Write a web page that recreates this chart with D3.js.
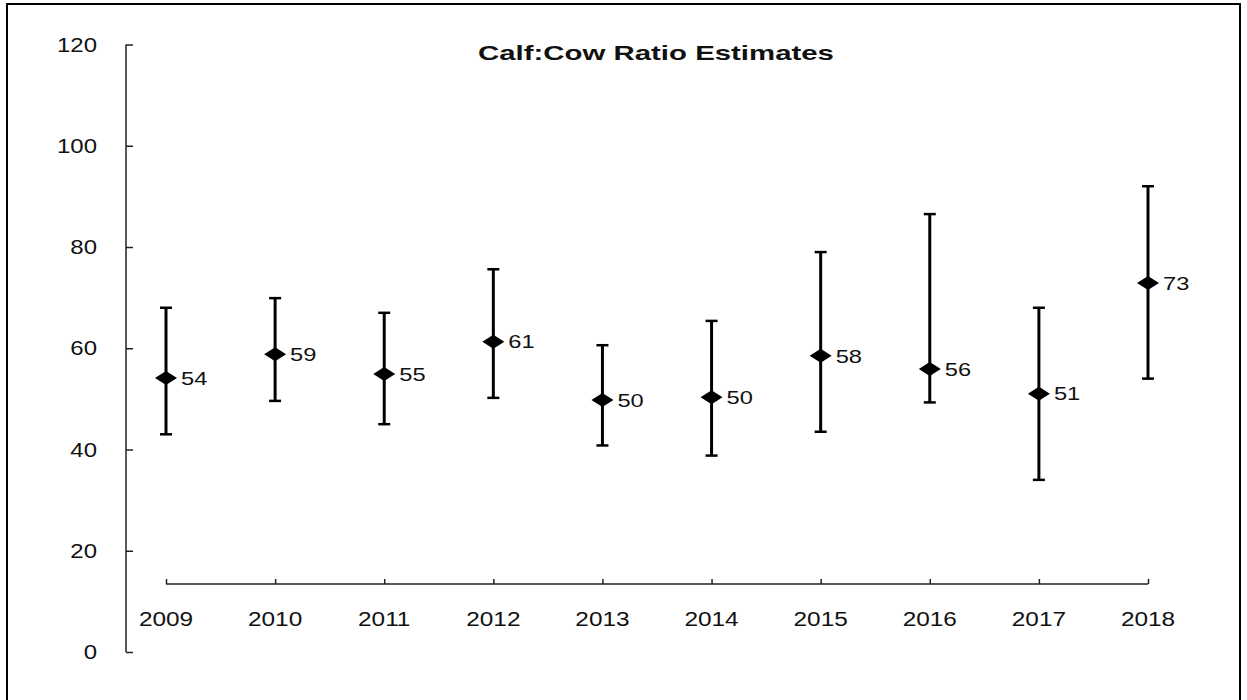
<!DOCTYPE html>
<html><head><meta charset="utf-8">
<script src="https://cdn.jsdelivr.net/npm/d3@7"></script>
<style>body{margin:0;background:#fff}svg{display:block}text{font-family:"Liberation Sans",Arial,sans-serif;fill:#111}</style>
</head><body>
<svg id="c" width="1247" height="700"></svg>
<script>
const years = ["2009","2010","2011","2012","2013","2014","2015","2016","2017","2018"];
const estimates = [54.1, 58.8, 54.9, 61.3, 49.8, 50.3, 58.5, 55.9, 51.0, 72.9];
const lower = [43.0, 49.6, 45.0, 50.2, 40.8, 38.8, 43.5, 49.3, 34.0, 54.0];
const upper = [68.0, 69.9, 67.0, 75.6, 60.6, 65.4, 79.0, 86.5, 68.0, 92.0];
const labels = ["54","59","55","61","50","50","58","56","51","73"];
const yTicks = [0, 20, 40, 60, 80, 100, 120];
const title = "Calf:Cow Ratio Estimates";

const svg = d3.select("#c");
const SX = 1.25;
// frame
svg.append("rect").attr("x",7).attr("y",4).attr("width",1233).attr("height",710)
  .attr("fill","none").attr("stroke","#000").attr("stroke-width",2);

const y = d3.scaleLinear().domain([0,120]).range([652,44.5]);
const x = d3.scalePoint().domain(years).range([166,1148]);
const xAxisY = 584;

// y axis
const ya = svg.append("g").attr("transform","translate(126,0)")
  .call(d3.axisLeft(y).tickValues(yTicks).tickSize(-7).tickFormat(""));
ya.selectAll("path,line").attr("stroke","#222").attr("stroke-width",1.5);
ya.select(".domain").attr("d",`M0,${y(120)}V${y(0)}`);

function txt(g, s, tx, ty, size, anchor, bold, sx){
  return g.append("text").attr("transform",`translate(${tx},${ty}) scale(${sx},1)`)
    .attr("text-anchor",anchor).attr("dy","0.36em")
    .style("font-size",size+"px").style("font-weight",bold?"bold":"normal").text(s);
}
yTicks.forEach(t => txt(svg, String(t), 97, y(t), 20, "end", false, 1.2));

// x axis
const xa = svg.append("g").attr("transform",`translate(0,${xAxisY})`)
  .call(d3.axisTop(x).tickSize(5).tickSizeOuter(0).tickFormat(""));
xa.selectAll("path,line").attr("stroke","#222").attr("stroke-width",1.5);
xa.select(".domain").attr("d",`M${x(years[0])},0H${x(years[years.length-1])}`);
years.forEach(yr => txt(svg, yr, x(yr), 619, 19.5, "middle", false, SX));

// title
txt(svg, title, 656, 52, 21, "middle", true, 1.4);

// error bars
const g = svg.append("g");
years.forEach((yr,i) => {
  const cx = x(yr);
  g.append("line").attr("x1",cx).attr("x2",cx).attr("y1",y(lower[i])).attr("y2",y(upper[i]))
    .attr("stroke","#000").attr("stroke-width",3);
  [lower[i], upper[i]].forEach(v => g.append("line").attr("x1",cx-6).attr("x2",cx+6)
    .attr("y1",y(v)).attr("y2",y(v)).attr("stroke","#000").attr("stroke-width",2.5));
  g.append("path").attr("d","M0,-7L11,0L0,7L-11,0Z").attr("fill","#000")
    .attr("transform",`translate(${cx},${y(estimates[i])})`);
  txt(g, labels[i], cx+15, y(estimates[i]), 18.5, "start", false, 1.28);
});
</script>
</body></html>
